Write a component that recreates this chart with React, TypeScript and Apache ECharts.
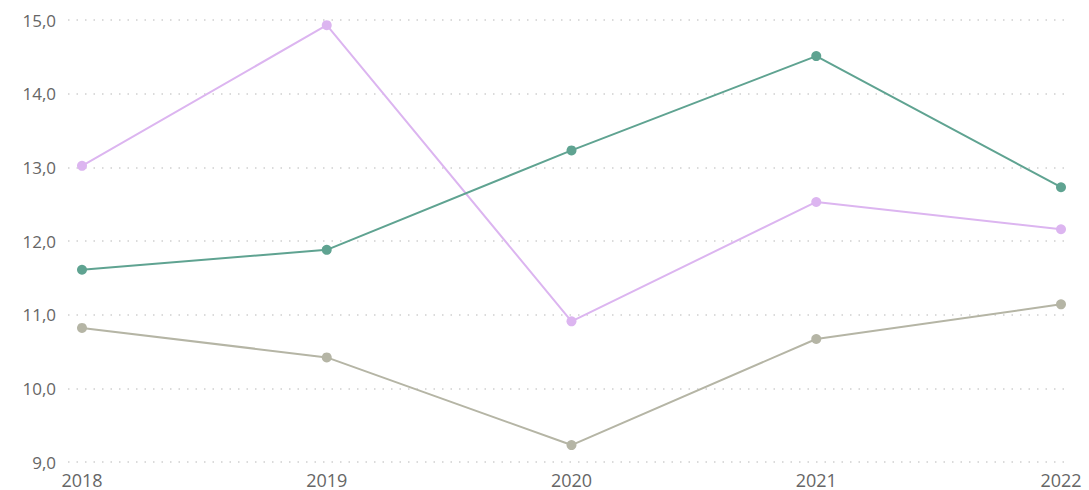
import React, { useEffect, useRef } from "react";
import * as echarts from "echarts";

const years = ["2018", "2019", "2020", "2021", "2022"];
const greenSeries = [11.61, 11.88, 13.23, 14.51, 12.73];
const pinkSeries = [13.02, 14.93, 10.91, 12.53, 12.16];
const graySeries = [10.82, 10.42, 9.23, 10.67, 11.14];
const yMin = 9;
const yMax = 15;
const yInterval = 1;

const fontFamily = "'Open Sans', 'Noto Sans', sans-serif";
const labelColor = "#666666";

export default function App() {
  const ref = useRef<HTMLDivElement>(null);
  useEffect(() => {
    document.body.style.margin = "0";
    if (!ref.current) return;
    const chart = echarts.init(ref.current, null, { renderer: "svg" });
    const fmt = (v: number) => v.toFixed(1).replace(".", ",");
    const mk = (name: string, data: number[], color: string) => ({
      name,
      type: "line",
      xAxisIndex: 1,
      yAxisIndex: 1,
      data,
      symbol: "circle",
      symbolSize: 10,
      showSymbol: true,
      lineStyle: { color, width: 2 },
      itemStyle: { color },
      emphasis: { disabled: true },
    });
    chart.setOption({
      animation: false,
      backgroundColor: "#ffffff",
      grid: [
        { left: 68, right: 19, top: 20, bottom: 28 },
        { left: 82, right: 28, top: 20, bottom: 28 },
      ],
      xAxis: [
        {
          type: "category",
          gridIndex: 0,
          data: years,
          show: false,
        },
        {
          type: "category",
          gridIndex: 1,
          data: years,
          boundaryGap: false,
          axisLine: { show: false },
          axisTick: { show: false },
          splitLine: { show: false },
          axisLabel: {
            color: labelColor,
            fontFamily,
            fontSize: 18,
            margin: 9,
          },
        },
      ],
      yAxis: [
        {
          type: "value",
          gridIndex: 0,
          min: yMin,
          max: yMax,
          interval: yInterval,
          axisLine: { show: false },
          axisTick: { show: false },
          axisLabel: {
            color: labelColor,
            fontFamily,
            fontSize: 17,
            margin: 12,
            formatter: (v: number) => fmt(v),
          },
          splitLine: {
            show: true,
            lineStyle: { color: "#cfcfcf", width: 1.5, type: [1.5, 7] },
          },
        },
        {
          type: "value",
          gridIndex: 1,
          min: yMin,
          max: yMax,
          interval: yInterval,
          show: false,
          splitLine: { show: false },
        },
      ],
      series: [
        mk("Gray", graySeries, "#b5b5a5"),
        mk("Pink", pinkSeries, "#dcb5f0"),
        mk("Green", greenSeries, "#5fa391"),
      ],
    });
    return () => chart.dispose();
  }, []);
  return <div ref={ref} style={{ width: 1089, height: 490 }} />;
}
